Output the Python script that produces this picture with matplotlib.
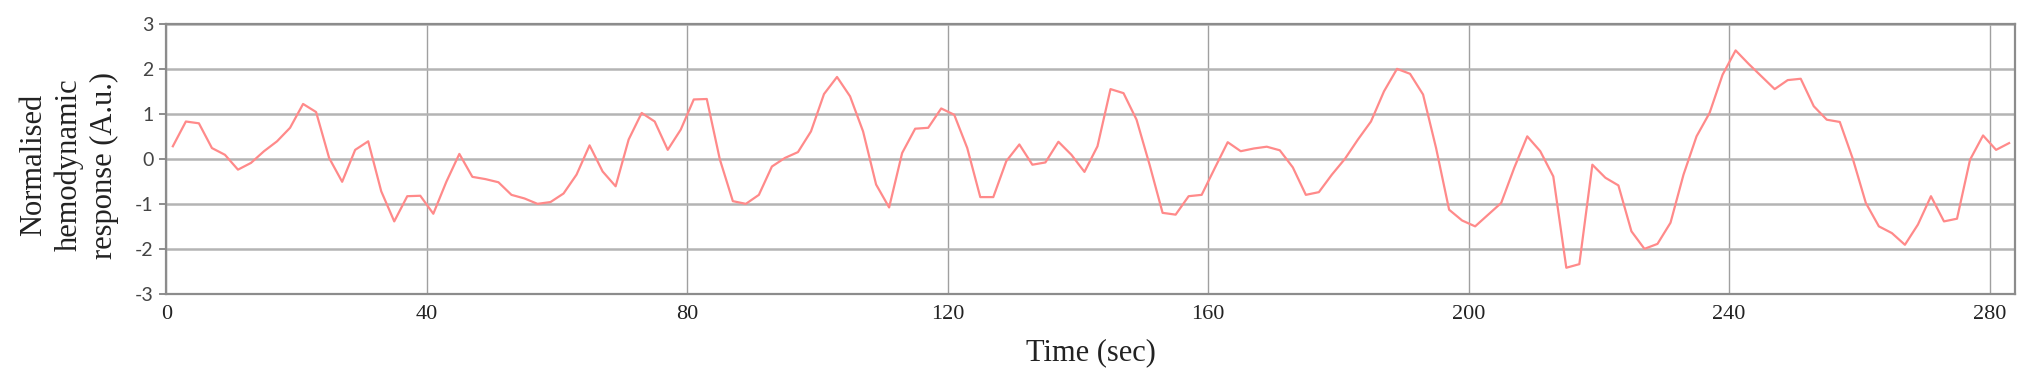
import numpy as np
import matplotlib
matplotlib.use('Agg')
import matplotlib.pyplot as plt

plt.rcParams['font.family'] = ['Liberation Serif', 'DejaVu Serif']
plt.rcParams['axes.unicode_minus'] = False

# Sample times (every 2 s, starting at 1 s)
time_sec = np.arange(1, 284, 2)

# Normalised hemodynamic response
response = [
    0.29, 0.84, 0.80, 0.25, 0.10, -0.23, -0.08, 0.18, 0.40, 0.70,
    1.23, 1.05, 0.03, -0.50, 0.21, 0.40, -0.71, -1.38, -0.82, -0.81,
    -1.21, -0.50, 0.12, -0.39, -0.44, -0.51, -0.79, -0.87, -0.99, -0.95,
    -0.76, -0.34, 0.31, -0.27, -0.60, 0.44, 1.03, 0.84, 0.21, 0.66,
    1.33, 1.34, 0.00, -0.93, -0.99, -0.79, -0.16, 0.03, 0.16, 0.62,
    1.45, 1.83, 1.40, 0.62, -0.56, -1.07, 0.14, 0.68, 0.70, 1.13,
    0.99, 0.25, -0.84, -0.84, -0.04, 0.33, -0.12, -0.07, 0.39, 0.10,
    -0.28, 0.29, 1.56, 1.47, 0.88, -0.12, -1.19, -1.23, -0.82, -0.79,
    -0.20, 0.38, 0.18, 0.24, 0.28, 0.20, -0.18, -0.79, -0.73, -0.34,
    0.01, 0.44, 0.84, 1.51, 2.01, 1.90, 1.44, 0.25, -1.12, -1.36,
    -1.49, -1.23, -0.97, -0.19, 0.51, 0.18, -0.38, -2.41, -2.33, -0.12,
    -0.41, -0.58, -1.60, -1.99, -1.88, -1.41, -0.34, 0.51, 1.03, 1.88,
    2.42, 2.12, 1.84, 1.56, 1.76, 1.79, 1.18, 0.88, 0.83, 0.01,
    -0.97, -1.49, -1.64, -1.90, -1.45, -0.82, -1.38, -1.32, -0.01, 0.53,
    0.21, 0.36,
]

x_ticks = [0, 40, 80, 120, 160, 200, 240, 280]
y_ticks = [-3, -2, -1, 0, 1, 2, 3]

fig = plt.figure(figsize=(20.31, 3.84), dpi=100)
ax = fig.add_axes([0.0819, 0.2336, 0.9102, 0.7031])

ax.plot(time_sec, response, color='#ff8a8a', linewidth=1.6)

ax.set_xlim(0, 283.9)
ax.set_ylim(-3, 3)
ax.set_xticks(x_ticks)
ax.set_yticks(y_ticks)

ax.grid(axis='y', color='#b4b4b4', linewidth=1.8)
ax.grid(axis='x', color='#a0a0a0', linewidth=1.0)
ax.set_axisbelow(True)

for s in ax.spines.values():
    s.set_color('#8c8c8c')
    s.set_linewidth(1.6)

ax.tick_params(axis='x', labelsize=16, labelcolor='#222222', length=0, pad=8)
ax.tick_params(axis='y', colors='#8c8c8c', labelcolor='#444444',
               length=5, width=1.4, pad=4)
for lbl in ax.get_yticklabels():
    lbl.set_family(['Lato', 'DejaVu Sans'])
    lbl.set_fontsize(14)

ax.set_xlabel('Time (sec)', fontsize=22, color='#222222', labelpad=10)
fig.text(0.0340, 0.57, 'Normalised\nhemodynamic\nresponse (A.u.)', fontsize=22,
         color='#222222', rotation=90, ha='center', va='center',
         multialignment='center', linespacing=1.28)

fig.savefig('out.png', dpi=100)
